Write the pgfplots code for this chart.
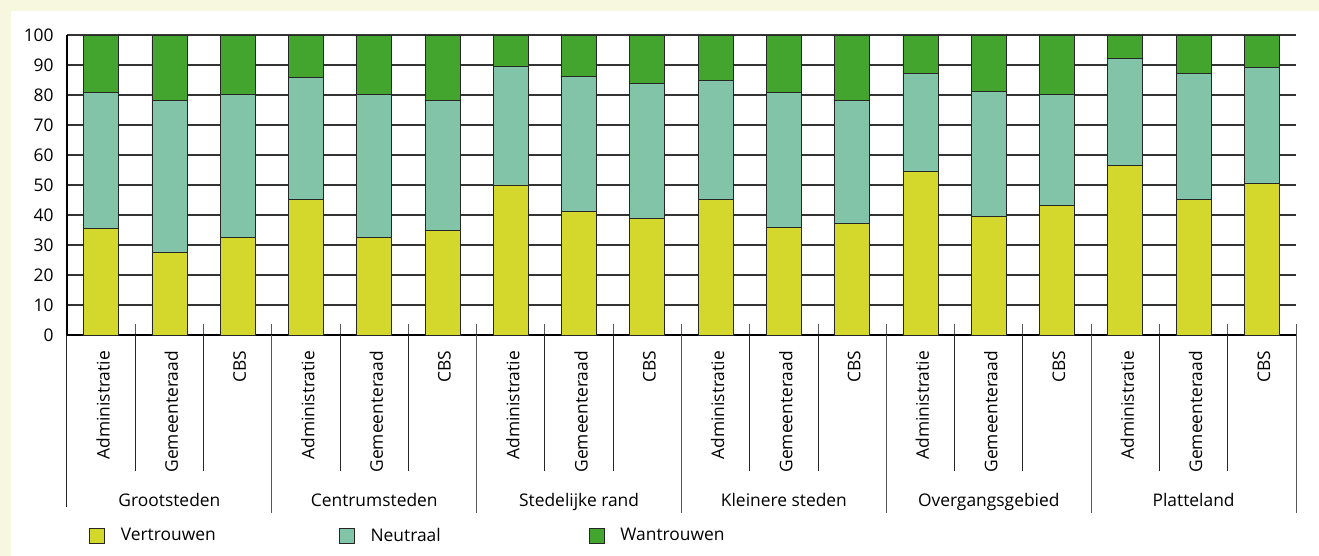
\documentclass[border=0pt]{standalone}
\usepackage{pgfplots}
\usepackage{pgfplotstable}
\pgfplotsset{compat=1.18}
\usepackage{fontspec}
\setmainfont{Open Sans}
\definecolor{cream}{HTML}{F7F6DE}
\definecolor{cYel}{HTML}{D5D82C}
\definecolor{cNeu}{HTML}{82C4A8}
\definecolor{cWan}{HTML}{43A52E}
\newcommand\lbl{\fontsize{8.7pt}{10.4pt}\selectfont}

\pgfplotstableread{
x v n w
0 35.6 45.3 19.1
1 27.6 50.7 21.7
2 32.4 47.8 19.8
3 45.3 40.6 14.1
4 32.4 47.9 19.7
5 34.9 43.4 21.7
6 50.0 39.4 10.6
7 41.1 45.0 13.9
8 38.9 45.0 16.1
9 45.3 39.4 15.3
10 35.8 44.9 19.3
11 37.2 41.0 21.8
12 54.4 32.8 12.8
13 39.4 41.8 18.8
14 43.2 37.0 19.8
15 56.4 35.8 7.8
16 45.2 42.0 12.8
17 50.4 38.9 10.7
}\datatable

\begin{document}
\begin{tikzpicture}
\fill[cream] (0,0) rectangle (659.5pt,278pt);
\fill[white] (5.5pt,0) rectangle (659.5pt,272.5pt);
\begin{axis}[
  at={(33.5pt,110.5pt)}, anchor=south west,
  scale only axis, width=614.5pt, height=150pt,
  xmin=-0.5, xmax=17.5, ymin=0, ymax=100,
  ybar stacked, bar width=17.5pt,
  axis x line=bottom, axis y line=left,
  axis line style={-, black, line width=0.6pt},
  xtick={0.5,1.5,2.5,3.5,4.5,5.5,6.5,7.5,8.5,9.5,10.5,11.5,12.5,13.5,14.5,15.5,16.5,17.5},
  xticklabels={},
  tick align=inside,
  x tick style={black!65, line width=0.5pt},
  major tick length=5.5pt,
  ytick={0,10,...,100}, y tick style={draw=none},
  ymajorgrids, grid style={black!80, line width=0.6pt},
  /pgf/number format/assume math mode=true,
  yticklabel style={font=\lbl, anchor=east, inner sep=0pt, xshift=-6.5pt},
  clip=false,
  legend columns=3,
  legend style={draw=none, fill=none, inner sep=0pt, outer sep=0pt,
    at={(axis cs:-0.5,0)}, anchor=west, xshift=11pt, yshift=-100.5pt,
    font=\lbl, nodes={inner sep=0pt},
    /tikz/every odd column/.append style={column sep=8pt},
    /tikz/every even column/.append style={column sep=0pt}},
  legend cell align=left,
]
\addplot[fill=cYel, draw=black!85, line width=0.4pt,
  legend image code/.code={\draw[fill=cYel, draw=black!85, line width=0.4pt] (0pt,-3.75pt) rectangle (7.5pt,3.75pt);}]
  table[x=x,y=v]{\datatable};
\addlegendentry{\makebox[109pt][l]{Vertrouwen}}
\addplot[fill=cNeu, draw=black!85, line width=0.4pt,
  legend image code/.code={\draw[fill=cNeu, draw=black!85, line width=0.4pt] (0pt,-3.75pt) rectangle (7.5pt,3.75pt);}]
  table[x=x,y=n]{\datatable};
\addlegendentry{\makebox[109pt][l]{Neutraal}}
\addplot[fill=cWan, draw=black!85, line width=0.4pt,
  legend image code/.code={\draw[fill=cWan, draw=black!85, line width=0.4pt] (0pt,-3.75pt) rectangle (7.5pt,3.75pt);}]
  table[x=x,y=w]{\datatable};
\addlegendentry{Wantrouwen}

\pgfplotsinvokeforeach{0.5,1.5,3.5,4.5,6.5,7.5,9.5,10.5,12.5,13.5,15.5,16.5}{
  \draw[black!85, line width=0.5pt] (axis cs:#1,0) -- ([yshift=-68pt]axis cs:#1,0);
}
\pgfplotsinvokeforeach{2.5,5.5,8.5,11.5,14.5,17.5}{
  \draw[black!65, line width=0.5pt] (axis cs:#1,0) -- ([yshift=-89pt]axis cs:#1,0);
}
\draw[black!85, line width=0.5pt] (axis cs:-0.5,0) -- ([yshift=-86pt]axis cs:-0.5,0);

\pgfplotsinvokeforeach{0,3,6,9,12,15}{
  \node[rotate=90, anchor=east, inner sep=0pt, font=\lbl] at ([yshift=-7.85pt, xshift=1pt]axis cs:#1,0) {Administratie};
}
\pgfplotsinvokeforeach{1,4,7,10,13,16}{
  \node[rotate=90, anchor=east, inner sep=0pt, font=\lbl] at ([yshift=-7.85pt, xshift=1pt]axis cs:#1,0) {Gemeenteraad};
}
\pgfplotsinvokeforeach{2,5,8,11,14,17}{
  \node[rotate=90, anchor=east, inner sep=0pt, font=\lbl] at ([yshift=-7.85pt, xshift=1pt]axis cs:#1,0) {CBS};
}
\node[anchor=base, font=\lbl] at ([yshift=-85.85pt]axis cs:1,0) {Grootsteden};
\node[anchor=base, font=\lbl] at ([yshift=-85.85pt]axis cs:4,0) {Centrumsteden};
\node[anchor=base, font=\lbl] at ([yshift=-85.85pt]axis cs:7,0) {Stedelijke rand};
\node[anchor=base, font=\lbl] at ([yshift=-85.85pt]axis cs:10,0) {Kleinere steden};
\node[anchor=base, font=\lbl] at ([yshift=-85.85pt]axis cs:13,0) {Overgangsgebied};
\node[anchor=base, font=\lbl] at ([yshift=-85.85pt]axis cs:16,0) {Platteland};
\end{axis}
\pgfresetboundingbox
\path[use as bounding box] (0,0) rectangle (659.5pt,278pt);
\end{tikzpicture}
\end{document}
